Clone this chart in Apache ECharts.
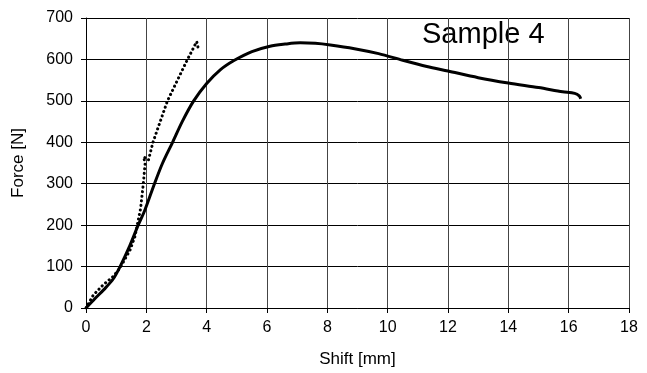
<!DOCTYPE html>
<html>
<head>
<meta charset="utf-8">
<script src="https://cdn.jsdelivr.net/npm/echarts@6/dist/echarts.min.js"></script>
<style>
  html, body { margin: 0; padding: 0; background: #fff; }
  #chartDiv { width: 647px; height: 373px; }
</style>
</head>
<body>
<div id="chartDiv"></div>
<script>
// shift [mm], force [N]
var solidShift = [0, 0.3, 0.6, 0.9, 1.13, 1.45, 1.73, 1.95, 2.27, 2.54, 2.87, 3.19, 3.57, 4, 4.45, 4.92, 5.5, 6.1, 6.6, 7.1, 7.6, 8.1, 8.9, 9.7, 10.5, 11.3, 12, 13, 14, 15, 15.8, 16.2, 16.35, 16.4];
var solidForce = [0, 23, 45, 70, 100, 150, 200, 236, 300, 350, 400, 450, 500, 542, 575, 598, 619, 632, 637, 640, 639, 635, 626, 614, 598, 583, 572, 556, 543, 532, 522, 518, 512, 505];

var dotShift = [0, 0.24, 0.57, 0.9, 1.13, 1.46, 1.62, 1.81, 1.9, 1.96, 1.91, 2.07, 2.22, 2.70, 3.35, 3.67, 3.72];
var dotForce = [0, 31, 56, 76, 97, 140, 172, 240, 300, 349, 365, 357, 400, 500, 598, 643, 627];

var xTicks = [0, 2, 4, 6, 8, 10, 12, 14, 16, 18];
var yTicks = [0, 100, 200, 300, 400, 500, 600, 700];

function pairs(xs, ys) {
    var out = [];
    for (var i = 0; i < xs.length; ++i) out.push([xs[i], ys[i]]);
    return out;
}

var myChart = echarts.init(document.getElementById('chartDiv'));
var fontName = 'Liberation Sans';

var option = {
    animation: false,
    graphic: [{
        type: 'text',
        left: 422,
        top: 20,
        style: { text: 'Sample 4', font: '29px "Liberation Sans"', fill: '#000' }
    }],
    grid: { left: 86, right: 18, top: 18, bottom: 65, containLabel: false },
    xAxis: {
        type: 'value',
        min: xTicks[0],
        max: xTicks[xTicks.length - 1],
        interval: 2,
        name: 'Shift [mm]',
        nameLocation: 'middle',
        nameGap: 43,
        nameTextStyle: { color: '#000', fontSize: 17, fontFamily: fontName },
        axisLine: { lineStyle: { color: '#000', width: 1 } },
        axisTick: { show: true, length: 5, lineStyle: { color: '#000' } },
        axisLabel: { color: '#000', fontSize: 16, fontFamily: fontName, margin: 12 },
        splitLine: { show: true, lineStyle: { color: '#444', width: 1 } }
    },
    yAxis: {
        type: 'value',
        min: yTicks[0],
        max: yTicks[yTicks.length - 1],
        interval: 100,
        name: 'Force [N]',
        nameLocation: 'middle',
        nameGap: 59,
        nameRotate: 90,
        nameTextStyle: { color: '#000', fontSize: 17, fontFamily: fontName },
        axisLine: { show: true, lineStyle: { color: '#000', width: 1 } },
        axisTick: { show: true, length: 5, lineStyle: { color: '#000' } },
        axisLabel: { color: '#000', fontSize: 16, fontFamily: fontName, margin: 13 },
        splitLine: { show: true, lineStyle: { color: '#000', width: 1 } }
    },
    series: [
        {
            name: 'solid',
            type: 'line',
            smooth: 0.3,
            showSymbol: false,
            lineStyle: { color: '#000', width: 3 },
            data: pairs(solidShift, solidForce)
        },
        {
            name: 'dotted',
            type: 'line',
            showSymbol: false,
            lineStyle: { color: '#000', width: 3, type: [0.1, 4.5], cap: 'round' },
            data: pairs(dotShift, dotForce)
        }
    ]
};

myChart.setOption(option);
window.addEventListener("resize", function () {
    myChart.resize();
});
</script>
</body>
</html>
